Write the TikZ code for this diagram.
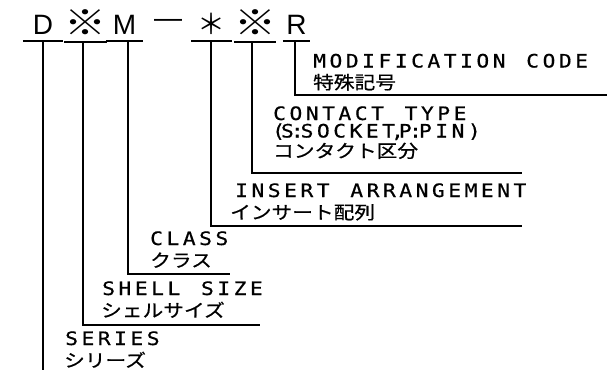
\documentclass[tikz,border=0pt]{standalone}
\usepackage{fontspec}
\usepackage{graphicx}
\newfontfamily\symfont{Liberation Sans}
\newfontfamily\komefont{Noto Sans CJK JP}
\newfontfamily\enfont[FakeStretch=1.15,FakeBold=0.6,LetterSpace=19,WordSpace=1.27]{DejaVu Sans Mono}
\newfontfamily\jpfont[FakeStretch=1.15,FakeBold=0.6]{Noto Sans CJK JP}

\begin{document}
\begin{tikzpicture}[x=1pt, y=-1pt,
    sym/.style={anchor=base, inner xsep=0pt, inner ysep=7pt, text depth=0pt,
                font=\symfont\fontsize{28}{30}\selectfont},
    kome/.style={sym, font=\komefont\fontsize{35}{36}\selectfont},
    uline/.style={line width=1.8pt},
    lead/.style={line width=1.5pt},
    en/.style={anchor=base west, inner sep=0pt,
               font=\enfont\fontsize{18.5}{20}\selectfont},
    jp/.style={anchor=base west, inner sep=0pt,
               font=\jpfont\fontsize{18}{20}\selectfont}]
  \useasboundingbox (0,0) rectangle (607,370);
  % part number
  \node[sym, minimum width=40pt] (d) at (43,34) {D};
  \node[kome, minimum width=35pt] (s1) at (85.5,35) {\scalebox{1.2}[1]{※}};
  \node[sym, minimum width=37pt] (m) at (124.5,34) {M};
  \node[sym, inner ysep=0pt] (dash) at (168,27) {—};
  \node[kome, minimum width=40pt, font=\komefont\fontsize{28}{30}\selectfont]
    (ast) at (211.5,34) {＊};
  \node[kome, minimum width=35pt] (s2) at (255,35) {\scalebox{1.2}[1]{※}};
  \node[sym, minimum width=27pt] (r) at (296.5,34) {R};
  \foreach \n in {d,s1,m,ast,s2,r}
    \draw[uline] (\n.south west) -- (\n.south east);
  % leader ends
  \coordinate (e0) at (43,370);
  \coordinate (e1) at (260,325);
  \coordinate (e2) at (230,274);
  \coordinate (e3) at (522,226);
  \coordinate (e4) at (522,173);
  \coordinate (e5) at (607,95);
  \draw[lead] (d.south) -- (e0);
  \draw[lead] ([xshift=-2.5pt]s1.south) |- (e1);
  \draw[lead] ([xshift=3.5pt]m.south) |- (e2);
  \draw[lead] ([xshift=-0.5pt]ast.south) |- (e3);
  \draw[lead] ([xshift=-3pt]s2.south) |- (e4);
  \draw[lead] ([xshift=-1.5pt]r.south) |- (e5);
  % labels
  \node[en] (modE) at (313,67.5) {MODIFICATION CODE};
  \node[jp] (modJ) at (313,89) {特殊記号};
  \node[en] (conE) at (273,120) {CONTACT TYPE};
  \node[en] (conP) at (272,137.5)
    {(\kern-4pt S\kern-3pt:\kern-3pt SOCKET\kern-4pt,\kern-5pt P\kern-2.5pt:\kern-3pt PIN)};
  \node[jp] (conJ) at (273,157.5) {コンタクト区分};
  \node[en] (insE) at (235,197) {INSERT ARRANGEMENT};
  \node[jp] (insJ) at (230,219) {インサート配列};
  \node[en] (claE) at (150,245) {CLASS};
  \node[jp] (claJ) at (150,267) {クラス};
  \node[en] (shlE) at (102,295) {SHELL SIZE};
  \node[jp] (shlJ) at (101,317) {シェルサイズ};
  \node[en] (serE) at (65,345) {SERIES};
  \node[jp] (serJ) at (64,367) {シリーズ};
\end{tikzpicture}
\end{document}
